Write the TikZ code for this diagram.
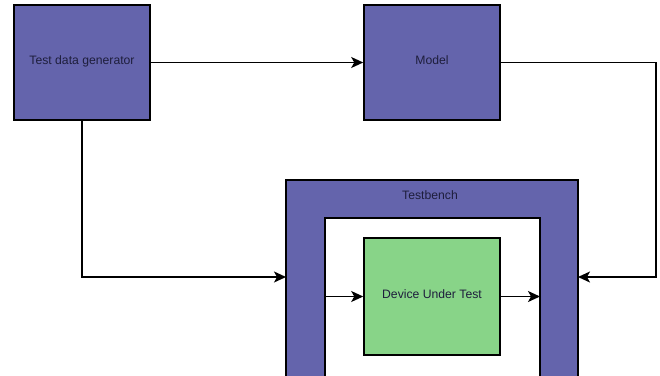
\documentclass[tikz,border=0pt]{standalone}
\usepackage{fontspec}
\setmainfont{Liberation Sans}
\usetikzlibrary{arrows.meta}
\definecolor{blk}{HTML}{6464AC}
\definecolor{dutc}{HTML}{88D488}
\definecolor{txt}{HTML}{1E1E3C}
\begin{document}
\begin{tikzpicture}[x=1pt,y=-1pt,
  box/.style={draw=black, line width=1.6pt, fill=blk, minimum width=136pt, minimum height=115pt, inner sep=0pt, font=\fontsize{12.2}{14}\selectfont, text=txt, text height=9pt, text depth=5pt},
  conn/.style={line width=1.5pt, -{Stealth[length=12pt,width=11pt,inset=3pt]}},
  lbl/.style={font=\fontsize{12.2}{14}\selectfont, text=txt, inner sep=0pt}]
\useasboundingbox (0,0) rectangle (660,375);
\node[box] (tdg) at (82,62.5) {Test data generator};
\node[box] (model) at (432,62.5) {Model};
% testbench frame
\filldraw[fill=blk, draw=black, line width=1.6pt]
  (286,380) -- (286,180) -- (578,180) -- (578,380) -- (540,380) -- (540,218) -- (325,218) -- (325,380) -- cycle;
\node[lbl] (tbl) at (430,195) {Testbench};
\coordinate (tbL) at (286,277);
\coordinate (tbR) at (578,277);
\coordinate (tbIL) at (325,296.5);
\coordinate (tbIR) at (540,296.5);
\coordinate (mr) at (656,277);
\node[box, fill=dutc, minimum height=117pt] (dut) at (432,296.5) {Device Under Test};
% connectors
\draw[conn] (tdg) -- (model);
\draw[conn] (tdg.south) |- (tbL);
\draw[conn] (model.east) -| (mr) -- (tbR);
\draw[conn] (tbIL) -- (dut.west);
\draw[conn] (dut.east) -- (tbIR);
\end{tikzpicture}
\end{document}
